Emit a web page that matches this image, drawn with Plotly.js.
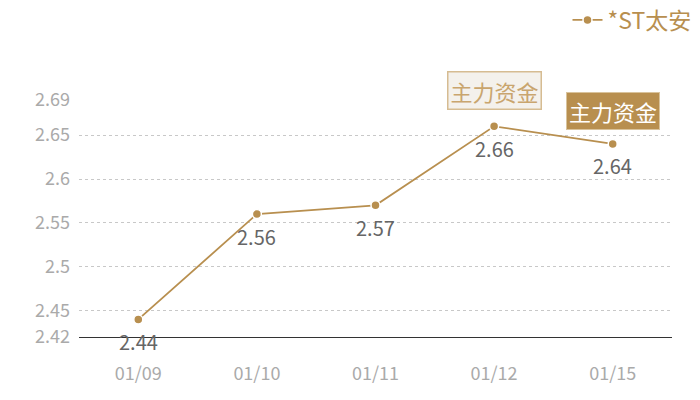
<!DOCTYPE html>
<html>
<head>
<meta charset="utf-8">
<script src="https://cdn.plot.ly/plotly-3.0.1.min.js"></script>
<style>
  html, body { margin: 0; padding: 0; background: #fff; }
  #plot { width: 700px; height: 400px; }
</style>
</head>
<body>
<div id="plot"></div>
<script>
var dates = ['01/09', '01/10', '01/11', '01/12', '01/15'];
var prices = [2.44, 2.56, 2.57, 2.66, 2.64];
var priceLabels = ['2.44', '2.56', '2.57', '2.66', '2.64'];
var yTicks = [2.42, 2.45, 2.5, 2.55, 2.6, 2.65, 2.69];
var seriesName = '*ST太安';
var flagText = '主力资金';
var flagDates = ['01/12', '01/15'];
var flagValues = [2.66, 2.64];

var gold = '#b88f4f';
var font = '"Noto Sans CJK SC", "Noto Sans", sans-serif';

var trace = {
  x: dates,
  y: prices,
  name: seriesName,
  type: 'scatter',
  mode: 'lines+markers',
  line: { color: gold, width: 1.8 },
  marker: { color: gold, size: 9, line: { color: '#fff', width: 1.5 } },
  cliponaxis: false
};

// value labels under each point
var annotations = dates.map(function (d, i) {
  return {
    x: d, y: prices[i], xref: 'x', yref: 'y',
    text: priceLabels[i], showarrow: false, yshift: -22,
    font: { family: font, size: 20, color: '#666' }
  };
});

// 主力资金 flags
annotations.push({
  x: flagDates[0], y: flagValues[0], xref: 'x', yref: 'y',
  text: flagText, showarrow: false, yshift: 36,
  font: { family: font, size: 22, color: '#c9a56e' },
  bgcolor: '#f4f1ec', bordercolor: '#d6bc92', borderwidth: 1.5, borderpad: 2
});
annotations.push({
  x: flagDates[1], y: flagValues[1], xref: 'x', yref: 'y',
  text: flagText, showarrow: false, yshift: 33,
  font: { family: font, size: 22, color: '#fff' },
  bgcolor: gold, bordercolor: '#d9c39c', borderwidth: 1, borderpad: 2
});

var layout = {
  width: 700,
  height: 400,
  margin: { l: 79, r: 28, t: 100, b: 63 },
  paper_bgcolor: '#fff',
  plot_bgcolor: '#fff',
  font: { family: font },
  showlegend: true,
  legend: {
    xref: 'container', yref: 'container',
    x: 0.995, xanchor: 'right', y: 0.95, yanchor: 'middle',
    orientation: 'h',
    font: { family: font, size: 23, color: gold },
    itemwidth: 30
  },
  xaxis: {
    type: 'category',
    range: [-0.5, 4.5],
    showgrid: false,
    zeroline: false,
    showline: true,
    linecolor: '#333',
    linewidth: 1,
    ticks: '',
    ticklabelstandoff: 20,
    tickfont: { family: font, size: 18, color: '#aaa' },
    fixedrange: true
  },
  yaxis: {
    range: [2.42, 2.69],
    tickvals: yTicks,
    ticktext: yTicks.map(String),
    showgrid: true,
    gridcolor: '#c8c8c8',
    griddash: 'dot',
    gridwidth: 1,
    zeroline: false,
    showline: false,
    ticks: '',
    ticklabelstandoff: 8,
    tickfont: { family: font, size: 18, color: '#aaa' },
    fixedrange: true
  },
  annotations: annotations
};

Plotly.newPlot('plot', [trace], layout, { displayModeBar: false, staticPlot: true });
</script>
</body>
</html>
